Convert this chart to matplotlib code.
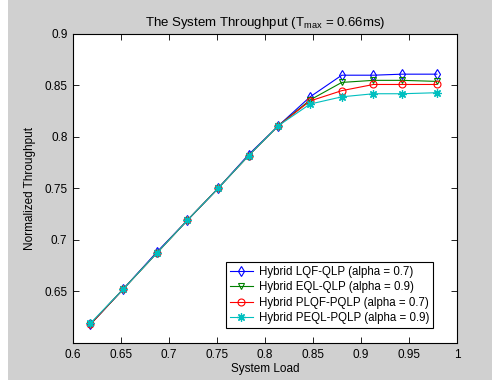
import numpy as np
import matplotlib
matplotlib.use('Agg')
from matplotlib import pyplot as plt
from matplotlib.ticker import MultipleLocator as mloc

# System load values and the normalized throughput of each scheme
load = [0.618, 0.652, 0.687, 0.719, 0.751, 0.783, 0.814, 0.847, 0.880, 0.913, 0.943, 0.979]
lqf_qlp = [0.618, 0.652, 0.688, 0.719, 0.750, 0.783, 0.811, 0.839, 0.860, 0.860, 0.861, 0.861]
eql_qlp = [0.618, 0.652, 0.687, 0.719, 0.750, 0.782, 0.811, 0.836, 0.853, 0.855, 0.855, 0.854]
plqf_pqlp = [0.618, 0.652, 0.687, 0.719, 0.750, 0.782, 0.811, 0.835, 0.845, 0.851, 0.851, 0.851]
peql_pqlp = [0.619, 0.652, 0.687, 0.719, 0.750, 0.782, 0.811, 0.832, 0.839, 0.842, 0.842, 0.843]

labels = ["Hybrid LQF-QLP (alpha = 0.7)",
          "Hybrid EQL-QLP (alpha = 0.9)",
          "Hybrid PLQF-PQLP (alpha = 0.7)",
          "Hybrid PEQL-PQLP (alpha = 0.9)"]

plt.rcParams['font.family'] = ['Liberation Sans', 'DejaVu Sans']
plt.rcParams['mathtext.fontset'] = 'custom'
plt.rcParams['mathtext.rm'] = 'Liberation Sans'
plt.rcParams['font.size'] = 8.5

fig = plt.figure(figsize=[4.92, 3.80], dpi=100, facecolor='#d0d0d0')
# white strip along the left edge of the window
fig.patches.append(plt.Rectangle((0, 0), 8 / 492, 1, transform=fig.transFigure,
                                 facecolor='white', edgecolor='none', zorder=0))
ax = fig.add_axes([73 / 492, 1 - 343 / 380, 384 / 492, 309 / 380])

asterisk = (8, 2, 0)
ax.plot(load, lqf_qlp, color='b', lw=0.8, marker='d', ms=5, mfc='none', mew=0.8, label=labels[0])
ax.plot(load, eql_qlp, color='g', lw=0.8, marker='v', ms=5, mfc='none', mew=0.8, label=labels[1])
ax.plot(load, plqf_pqlp, color='r', lw=0.8, marker='o', ms=5, mfc='none', mew=0.8, label=labels[2])
ax.plot(load, peql_pqlp, color='c', lw=0.8, marker=asterisk, ms=6, mew=0.9, label=labels[3])

ax.set_xlim(0.6, 1.0)
ax.set_ylim(0.6, 0.9)
ax.xaxis.set_major_locator(mloc(0.05))
ax.yaxis.set_major_locator(mloc(0.05))
ax.xaxis.set_major_formatter(lambda v, p: f"{v:g}")
ax.yaxis.set_major_formatter(lambda v, p: "" if v < 0.62 else f"{v:g}")
ax.tick_params(direction='in', top=True, right=True, length=4, width=0.6, pad=4)
for s in ax.spines.values():
    s.set_linewidth(0.8)

ax.set_title(r"The System Throughput (T$_{\rm max}$ = 0.66ms)", fontsize=9.5, pad=6)
ax.set_xlabel("System Load", labelpad=2)
ax.set_ylabel("Normalized Throughput", labelpad=6)

leg = ax.legend(loc='lower right', bbox_to_anchor=(0.9375, 0.048), fontsize=8.3,
                fancybox=False, framealpha=1, edgecolor='k', borderpad=0.35,
                handlelength=2.0, labelspacing=0.3, handletextpad=0.5, borderaxespad=0)
leg.get_frame().set_linewidth(0.8)

fig.savefig("out.png", dpi=100, facecolor=fig.get_facecolor())
